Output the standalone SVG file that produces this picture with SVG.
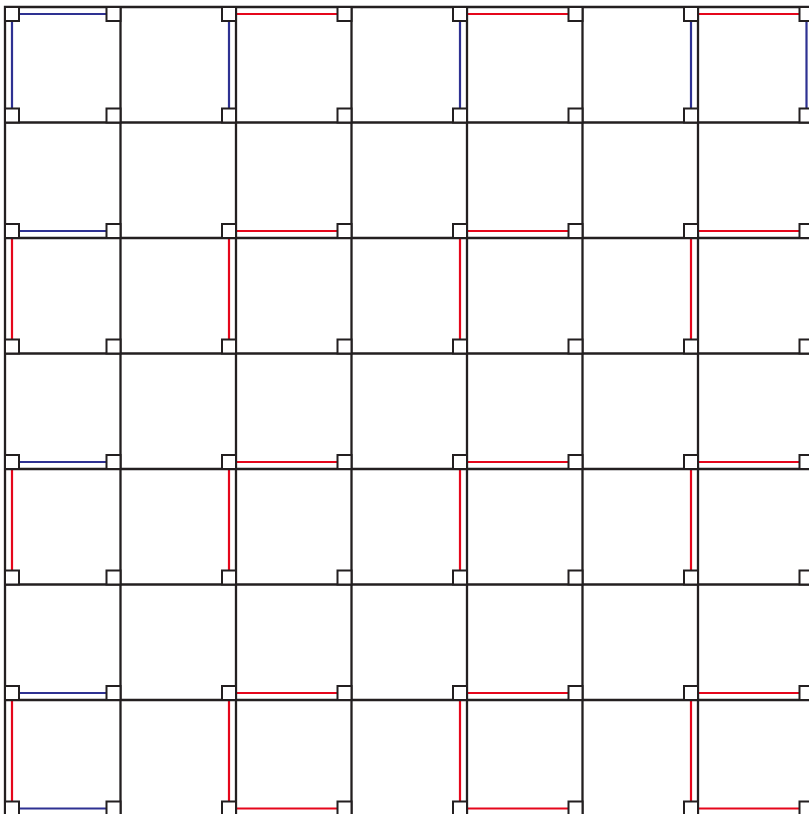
<svg xmlns="http://www.w3.org/2000/svg" xmlns:xlink="http://www.w3.org/1999/xlink" width="809" height="814" viewBox="0 0 809 814">
<style>
.grid{fill:none;stroke:#231f20;stroke-width:2.3;stroke-linecap:square}
.sq{fill:#ffffff;stroke:#231f20;stroke-width:2}
.blue{fill:none;stroke:#2e3192;stroke-width:2.2}
.red{fill:none;stroke:#e5061b;stroke-width:2.2}
</style>
<defs>
<rect id="sq" width="14" height="14" class="sq"/>
</defs>
<rect width="809" height="814" fill="#ffffff"/>
<g id="connectors">
<path id="blue-lines" class="blue" d="M19 14H106.5 M19 231H106.5 M19 462H106.5 M19 693H106.5 M19 808.5H106.5 M12 21V108.5 M229 21V108.5 M460 21V108.5 M691 21V108.5 M806.5 21V108.5"/>
<path id="red-lines" class="red" d="M236 14H337.5 M467 14H568.5 M698 14H799.5 M236 231H337.5 M467 231H568.5 M698 231H799.5 M236 462H337.5 M467 462H568.5 M698 462H799.5 M236 693H337.5 M467 693H568.5 M698 693H799.5 M236 808.5H337.5 M467 808.5H568.5 M698 808.5H799.5 M12 238V339.5 M229 238V339.5 M460 238V339.5 M691 238V339.5 M12 469V570.5 M229 469V570.5 M460 469V570.5 M691 469V570.5 M12 700V801.5 M229 700V801.5 M460 700V801.5 M691 700V801.5"/>
</g>
<g id="grid">
<path class="grid" d="M5 7H812 M5 122.5H812 M5 238H812 M5 353.5H812 M5 469H812 M5 584.5H812 M5 700H812 M5 7V817 M120.5 7V817 M236 7V817 M351.5 7V817 M467 7V817 M582.5 7V817 M698 7V817"/>
</g>
<g id="nodes">
<g id="row0"><use href="#sq" x="5" y="7"/><use href="#sq" x="106.5" y="7"/><use href="#sq" x="222" y="7"/><use href="#sq" x="337.5" y="7"/><use href="#sq" x="453" y="7"/><use href="#sq" x="568.5" y="7"/><use href="#sq" x="684" y="7"/><use href="#sq" x="799.5" y="7"/></g>
<g id="row1"><use href="#sq" x="5" y="108.5"/><use href="#sq" x="106.5" y="108.5"/><use href="#sq" x="222" y="108.5"/><use href="#sq" x="337.5" y="108.5"/><use href="#sq" x="453" y="108.5"/><use href="#sq" x="568.5" y="108.5"/><use href="#sq" x="684" y="108.5"/><use href="#sq" x="799.5" y="108.5"/></g>
<g id="row2"><use href="#sq" x="5" y="224"/><use href="#sq" x="106.5" y="224"/><use href="#sq" x="222" y="224"/><use href="#sq" x="337.5" y="224"/><use href="#sq" x="453" y="224"/><use href="#sq" x="568.5" y="224"/><use href="#sq" x="684" y="224"/><use href="#sq" x="799.5" y="224"/></g>
<g id="row3"><use href="#sq" x="5" y="339.5"/><use href="#sq" x="106.5" y="339.5"/><use href="#sq" x="222" y="339.5"/><use href="#sq" x="337.5" y="339.5"/><use href="#sq" x="453" y="339.5"/><use href="#sq" x="568.5" y="339.5"/><use href="#sq" x="684" y="339.5"/><use href="#sq" x="799.5" y="339.5"/></g>
<g id="row4"><use href="#sq" x="5" y="455"/><use href="#sq" x="106.5" y="455"/><use href="#sq" x="222" y="455"/><use href="#sq" x="337.5" y="455"/><use href="#sq" x="453" y="455"/><use href="#sq" x="568.5" y="455"/><use href="#sq" x="684" y="455"/><use href="#sq" x="799.5" y="455"/></g>
<g id="row5"><use href="#sq" x="5" y="570.5"/><use href="#sq" x="106.5" y="570.5"/><use href="#sq" x="222" y="570.5"/><use href="#sq" x="337.5" y="570.5"/><use href="#sq" x="453" y="570.5"/><use href="#sq" x="568.5" y="570.5"/><use href="#sq" x="684" y="570.5"/><use href="#sq" x="799.5" y="570.5"/></g>
<g id="row6"><use href="#sq" x="5" y="686"/><use href="#sq" x="106.5" y="686"/><use href="#sq" x="222" y="686"/><use href="#sq" x="337.5" y="686"/><use href="#sq" x="453" y="686"/><use href="#sq" x="568.5" y="686"/><use href="#sq" x="684" y="686"/><use href="#sq" x="799.5" y="686"/></g>
<g id="row7"><use href="#sq" x="5" y="801.5"/><use href="#sq" x="106.5" y="801.5"/><use href="#sq" x="222" y="801.5"/><use href="#sq" x="337.5" y="801.5"/><use href="#sq" x="453" y="801.5"/><use href="#sq" x="568.5" y="801.5"/><use href="#sq" x="684" y="801.5"/><use href="#sq" x="799.5" y="801.5"/></g>
</g>
</svg>
